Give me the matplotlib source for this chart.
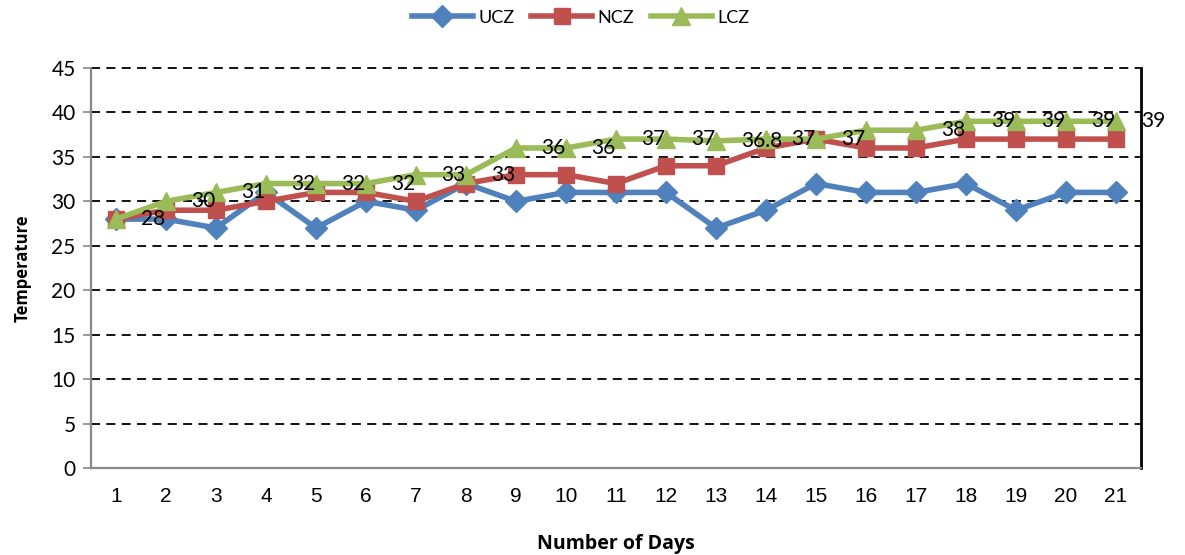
import matplotlib
matplotlib.use("Agg")
import matplotlib.pyplot as plt

days = list(range(1, 22))
ucz = [28, 28, 27, 31, 27, 30, 29, 32, 30, 31, 31, 31, 27, 29, 32, 31, 31, 32, 29, 31, 31]
ncz = [28, 29, 29, 30, 31, 31, 30, 32, 33, 33, 32, 34, 34, 36, 37, 36, 36, 37, 37, 37, 37]
lcz = [28, 30, 31, 32, 32, 32, 33, 33, 36, 36, 37, 37, 36.8, 37, 37, 38, 38, 39, 39, 39, 39]
# LCZ points that carry a value label (day 16 has none)
lcz_labelled = [d for d in days if d != 16]
yticks = list(range(0, 46, 5))

fig = plt.figure(figsize=(11.85, 5.55), dpi=100)
ax = fig.add_axes([0.0768, 0.1568, 0.9629 - 0.0768, 0.8775 - 0.1568])

blue, red, green = "#4F81BD", "#C0504D", "#9BBB59"
lw = 4.0
ax.plot(days, ucz, color=blue, lw=lw, marker="D", ms=11, label="UCZ", zorder=3)
ax.plot(days, ncz, color=red, lw=lw, marker="s", ms=12, label="NCZ", zorder=4)
ax.plot(days, lcz, color=green, lw=lw, marker="^", ms=13, label="LCZ", zorder=5)

for d in lcz_labelled:
    v = lcz[d - 1]
    ax.annotate(f"{v:g}", (d, v), xytext=(18, 0), textcoords="offset points",
                ha="left", va="center", fontsize=15, family="Lato",
                color="black", zorder=6, annotation_clip=False)

ax.set_xlim(0.5, 21.5)
ax.set_ylim(0, 45)
ax.set_yticks(yticks)
ax.set_xticks(days)
for y in yticks[1:]:
    ax.axhline(y, color="black", lw=1.3, ls=(0, (5, 3.5)), zorder=1, clip_on=False)

for lab in ax.get_xticklabels():
    lab.set_family("Liberation Sans")
    lab.set_fontsize(15)
for lab in ax.get_yticklabels():
    lab.set_family("Lato")
    lab.set_fontsize(15)
ax.tick_params(axis="x", length=0, pad=14)
ax.tick_params(axis="y", length=6, width=1.2, color="#888888", pad=5)

ax.spines["left"].set_color("#888888")
ax.spines["left"].set_linewidth(1.6)
ax.spines["bottom"].set_color("#888888")
ax.spines["bottom"].set_linewidth(1.6)
ax.spines["top"].set_visible(False)
ax.spines["right"].set_color("black")
ax.spines["right"].set_linewidth(2)

ax.set_ylabel("Temperature", fontsize=12, fontweight="bold", family="Open Sans", labelpad=14)
ax.set_xlabel("Number of Days", fontsize=14, fontweight="bold", family="Open Sans", labelpad=20)

leg = fig.legend(loc="center", bbox_to_anchor=(0.49, 0.968), ncol=3, frameon=False,
                 prop={"family": "Lato", "size": 13},
                 handlelength=3.4, columnspacing=0.9, handletextpad=0.3)

fig.savefig("out.png", dpi=100)
